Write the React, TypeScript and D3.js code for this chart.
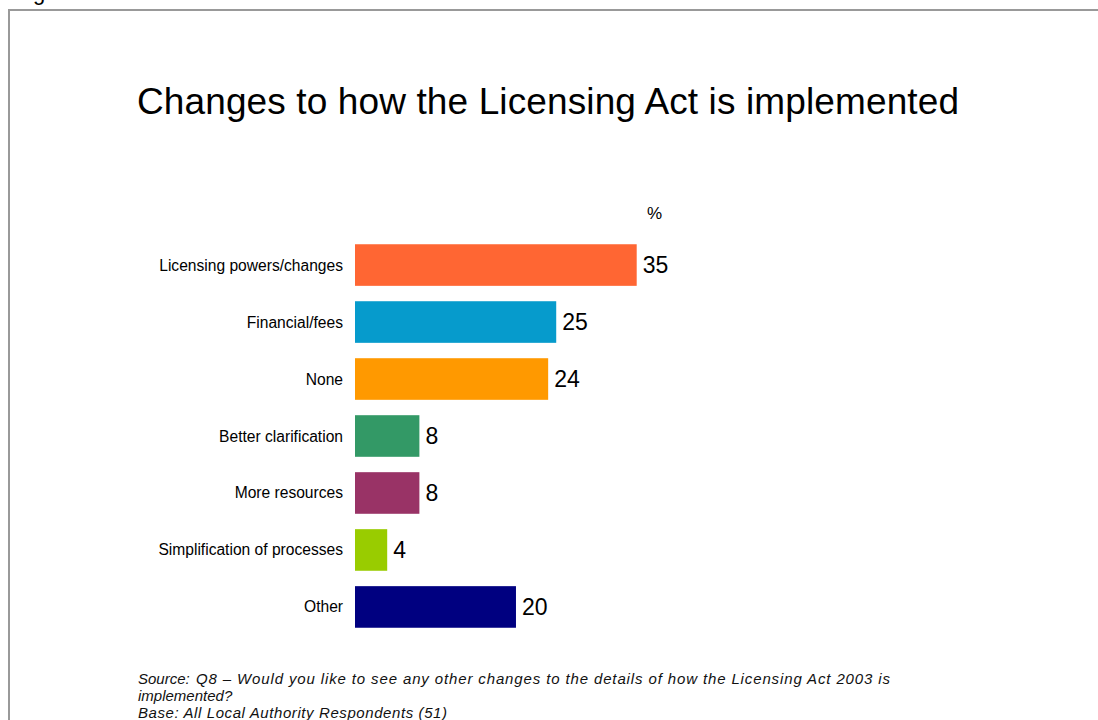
import React from "react";
import * as d3 from "d3";

const categories = [
  "Licensing powers/changes",
  "Financial/fees",
  "None",
  "Better clarification",
  "More resources",
  "Simplification of processes",
  "Other",
];
const values = [35, 25, 24, 8, 8, 4, 20];
const colors = ["#FF6633", "#069BCC", "#FF9900", "#339966", "#993366", "#99CC00", "#000080"];

const W = 1098;
const H = 720;
const FONT = "Arial, 'Liberation Sans', Helvetica, sans-serif";

export default function App() {
  const x = d3.scaleLinear().domain([0, 35]).range([355, 636.7]);
  const y = d3
    .scaleBand<string>()
    .domain(categories)
    .range([230, 642])
    .paddingInner(0.27)
    .paddingOuter(0.25);

  return (
    <svg
      width={W}
      height={H}
      style={{ position: "absolute", left: 0, top: 0, display: "block", background: "#fff" }}
      fontFamily={FONT}
    >
      <text x={33} y={0} fontSize={22} fill="#000">g</text>
      <rect x={9} y={10} width={W + 20} height={H + 20} fill="none" stroke="#999" strokeWidth={2} />
      <text x={137} y={114} fontSize={37} fill="#000" textLength={822} lengthAdjust="spacing">
        Changes to how the Licensing Act is implemented
      </text>
      <text x={647} y={219} fontSize={17} fill="#000">%</text>
      {categories.map((c, i) => {
        const by = y(c)!;
        const bh = y.bandwidth();
        return (
          <g key={c}>
            <rect x={x(0)} y={by} width={x(values[i]) - x(0)} height={bh} fill={colors[i]} />
            <text x={343} y={by + bh / 2 + 5.5} fontSize={15.6} textAnchor="end" fill="#000">
              {c}
            </text>
            <text x={x(values[i]) + 6} y={by + bh / 2 + 8} fontSize={23} fill="#000">
              {values[i]}
            </text>
          </g>
        );
      })}
      <g fontStyle="italic" fontSize={15} fill="#111">
        <text x={138} y={684}>Source:</text>
        <text x={196} y={684} textLength={694} lengthAdjust="spacing">
          Q8 – Would you like to see any other changes to the details of how the Licensing Act 2003 is
        </text>
        <text x={138} y={701}>implemented?</text>
        <text x={138} y={718} textLength={309} lengthAdjust="spacing">Base: All Local Authority Respondents (51)</text>
      </g>
    </svg>
  );
}
